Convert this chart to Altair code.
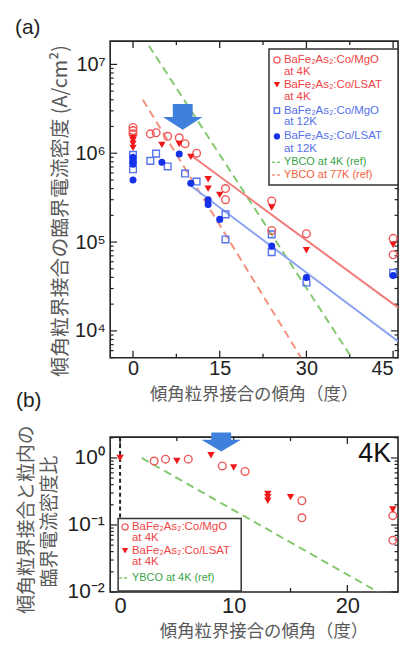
import altair as alt
import pandas as pd

# ---------------- data ----------------
# panel (a): critical current density (A/cm^2) vs misorientation angle (deg)
A_MGO4_X = [0, 0, 0, 3, 4, 6, 8, 9, 11, 16, 16, 24, 24, 30, 45, 45]
A_MGO4_Y = [1.95e6, 1.8e6, 1.65e6, 1.65e6, 1.7e6, 1.55e6, 1.49e6, 1.28e6, 1.0e6,
            4.0e5, 3.0e5, 2.9e5, 1.35e5, 1.24e5, 1.1e5, 7.2e4]
A_LSAT4_X = [0, 0, 0, 0, 5, 8, 10, 13, 13, 15, 24, 30, 45]
A_LSAT4_Y = [1.5e6, 1.4e6, 1.28e6, 1.15e6, 1.24e6, 1.27e6, 9.1e5, 5.1e5, 4.0e5,
             3.4e5, 2.45e5, 8.1e4, 9.3e4]
A_MGO12_X = [0, 0, 0, 3, 4, 6, 9, 11, 16, 16, 24, 24, 30, 45]
A_MGO12_Y = [9.6e5, 8.4e5, 6.6e5, 8.2e5, 9.9e5, 7.1e5, 5.9e5, 4.8e5, 2.05e5, 1.07e5,
             1.22e5, 7.7e4, 3.5e4, 4.5e4]
A_LSAT12_X = [0, 0, 0, 0, 5, 8, 10, 13, 13, 15, 24, 30, 45]
A_LSAT12_Y = [9.0e5, 8.0e5, 7.5e5, 5.0e5, 7.9e5, 9.8e5, 4.6e5, 3.0e5, 2.65e5, 1.8e5,
              9.0e4, 4.0e4, 4.2e4]
FIT4_X = [10, 46]
FIT4_Y = [9.5e5, 1.8e4]
FIT12_X = [10, 46]
FIT12_Y = [4.3e5, 7.5e3]
YBCO4_A_X = [2.75, 37.5]
YBCO4_A_Y = [1.62e7, 5.4e3]
YBCO77_A_X = [1.7, 29]
YBCO77_A_Y = [4.0e6, 5.1e3]

# panel (b): ratio of GB Jc to intragrain Jc at 4 K
B_MGO4_X = [3, 4, 6, 9, 11, 16, 16, 24, 24]
B_MGO4_Y = [0.90, 0.96, 0.96, 0.76, 0.63, 0.23, 0.128, 0.138, 0.059]
B_LSAT4_X = [0, 5, 8, 10, 13, 13, 13, 15, 24]
B_LSAT4_Y = [1.0, 0.90, 1.1, 0.72, 0.29, 0.26, 0.23, 0.26, 0.17]
YBCO4_B_X = [1.9, 22.7]
YBCO4_B_Y = [1.0, 0.01]

# tick values
A_X_MAJOR = [0, 15, 30, 45]
A_X_MINOR = [7.5, 22.5, 37.5]
A_Y_MAJOR = [1e4, 1e5, 1e6, 1e7]
B_X_MAJOR = [0, 10, 20]
B_X_MINOR = [5, 15]
B_Y_MAJOR = [0.01, 0.1, 1]

# annotation arrow positions (data coords)
ARROW_A = (8.6, 2.56e6)
ARROW_B = (8.9, 1.73)

# ---------------- styling ----------------
RED_OPEN = '#f05858'
RED_TRI = '#ee1818'
BLUE_OPEN = '#5673ee'
BLUE_FILL = '#1532e8'
GREEN = '#84c872'
SALMON = '#f4907c'
RED_FIT = '#f27a7a'
BLUE_FIT = '#8aa4f2'
ARROW = '#3f80dc'
TXT_RED = '#f04444'
TXT_BLUE = '#5470ea'
TXT_GREEN = '#3aa448'
TXT_ORANGE = '#f2603a'
TITLE_C = '#5a5a5a'
CJK = 'Noto Sans CJK JP'
LAT = 'Liberation Sans'

W = 290
HA = 319
HB = 156
LEFT = 110
TOP = 38

def minor_log(lo, hi):
    out = []
    for k in range(-3, 8):
        for m in range(2, 10):
            v = m * 10 ** k
            if lo < v < hi:
                out.append(v)
    return out

xa_scale = alt.Scale(domain=[-3.95, 45.85], nice=False, zero=False)
ya_dom = [10 ** 3.698, 10 ** 7.262]
ya_scale = alt.Scale(type='log', domain=ya_dom, nice=False)
xb_scale = alt.Scale(domain=[-0.87, 24.46], nice=False, zero=False)
yb_dom = [0.01, 10 ** 0.311]
yb_scale = alt.Scale(type='log', domain=yb_dom, nice=False)

xa_axis = alt.Axis(values=A_X_MAJOR, format='d', title=None, labelFontSize=20, labelPadding=1,
                   labelFlush=8)
ya_axis = alt.Axis(values=A_Y_MAJOR, title=None, labelPadding=5,
                   labelExpr="datum.value > 5e6 ? '10⁷' : datum.value > 5e5 ? '10⁶' : datum.value > 5e4 ? '10⁵' : '10⁴'")
xb_axis = alt.Axis(values=B_X_MAJOR, format='d', title=None, labelFontSize=22, labelPadding=4)
yb_axis = alt.Axis(values=B_Y_MAJOR, title=None, labelPadding=6, labelFontSize=21,
                   labelExpr="datum.value > 0.5 ? '10⁰' : datum.value > 0.05 ? '10⁻¹' : '10⁻²'")

DUMMY = pd.DataFrame({'d': [0]})


def XY(xscale, xaxis, yscale, yaxis):
    return dict(x=alt.X('x:Q', scale=xscale, axis=xaxis), y=alt.Y('y:Q', scale=yscale, axis=yaxis))


def frame_ticks(xscale, xaxis, yscale, yaxis, H, xmaj, xmin, ymaj, ymin):
    layers = []
    X = alt.X('x:Q', scale=xscale, axis=xaxis)
    Y = alt.Y('y:Q', scale=yscale, axis=yaxis)
    for vals, L in ((xmaj, 7), (xmin, 4)):
        df = pd.DataFrame({'x': vals})
        layers.append(alt.Chart(df).mark_rule(color='#222', strokeWidth=1.3).encode(
            x=X, y=alt.value(H), y2=alt.value(H - L)))
        layers.append(alt.Chart(df).mark_rule(color='#222', strokeWidth=1.3).encode(
            x=X, y=alt.value(0), y2=alt.value(L)))
    for vals, L in ((ymaj, 7), (ymin, 3.5)):
        df = pd.DataFrame({'y': vals})
        layers.append(alt.Chart(df).mark_rule(color='#222', strokeWidth=1.2).encode(
            y=Y, x=alt.value(0), x2=alt.value(L)))
        layers.append(alt.Chart(df).mark_rule(color='#222', strokeWidth=1.2).encode(
            y=Y, x=alt.value(W), x2=alt.value(W - L)))
    return layers


def pts(xs, ys, kind, color, xscale, xaxis, yscale, yaxis, size=55):
    df = pd.DataFrame({'x': xs, 'y': ys})
    enc = XY(xscale, xaxis, yscale, yaxis)
    if kind == 'ocircle':
        m = alt.Chart(df).mark_point(shape='circle', filled=False, color=color, size=size, strokeWidth=1.4, opacity=1)
    elif kind == 'tri':
        m = alt.Chart(df).mark_point(shape='triangle-down', filled=True, color=color, size=size, opacity=1)
    elif kind == 'osquare':
        m = alt.Chart(df).mark_point(shape='square', filled=False, color=color, size=size, strokeWidth=1.4, opacity=1)
    else:
        m = alt.Chart(df).mark_point(shape='circle', filled=True, color=color, size=size, opacity=1)
    return m.encode(**enc)


def line(xs, ys, color, dash, xscale, xaxis, yscale, yaxis, width=2):
    df = pd.DataFrame({'x': xs, 'y': ys})
    kw = dict(color=color, strokeWidth=width, clip=True)
    if dash:
        kw['strokeDash'] = dash
    return alt.Chart(df).mark_line(**kw).encode(**XY(xscale, xaxis, yscale, yaxis))


def txt(s, x, y, size, color, font=LAT, align='left', angle=0, baseline='middle'):
    kw = dict(text=s, fontSize=size, color=color, font=font, align=align, baseline=baseline)
    if angle:
        kw['angle'] = angle
    return alt.Chart(DUMMY).mark_text(**kw).encode(x=alt.value(x), y=alt.value(y))


def sym(shape, filled, color, x, y, size=40):
    return alt.Chart(DUMMY).mark_point(shape=shape, filled=filled, color=color, size=size,
                                       strokeWidth=1.3, opacity=1).encode(x=alt.value(x), y=alt.value(y))


def dashsym(color, x, y):
    return alt.Chart(DUMMY).mark_rule(color=color, strokeWidth=1.5, strokeDash=[3, 2]).encode(
        x=alt.value(x), x2=alt.value(x + 10), y=alt.value(y))


def box(x1, x2, y1, y2, stroke='#333'):
    return alt.Chart(DUMMY).mark_rect(fill='white', stroke=stroke, strokeWidth=1.5).encode(
        x=alt.value(x1), x2=alt.value(x2), y=alt.value(y1), y2=alt.value(y2))


def anchor():
    # invisible white dot fixing the top-left corner of the drawing
    return alt.Chart(DUMMY).mark_rect(fill='white', strokeWidth=0).encode(
        x=alt.value(-LEFT), x2=alt.value(-LEFT + 1), y=alt.value(-TOP), y2=alt.value(-TOP + 1))


ARROW_PATH_A = 'M-0.5,-0.65 L0.5,-0.65 L0.5,0 L1,0 L0,0.65 L-1,0 L-0.5,0 Z'
ARROW_PATH_B = 'M-0.5,-0.48 L0.5,-0.48 L0.5,-0.12 L1,-0.12 L0,0.48 L-1,-0.12 L-0.5,-0.12 Z'


def arrow(pos, path, xscale, xaxis, yscale, yaxis):
    df = pd.DataFrame({'x': [pos[0]], 'y': [pos[1]]})
    return alt.Chart(df).mark_point(shape=path, filled=True, color=ARROW, size=1600, opacity=1,
                                    strokeWidth=0).encode(**XY(xscale, xaxis, yscale, yaxis))


LF = 11.5  # legend font size, panel (a)

# ---------------- panel (a) ----------------
ka = (xa_scale, xa_axis, ya_scale, ya_axis)
layers_a = [anchor()]
layers_a += frame_ticks(xa_scale, xa_axis, ya_scale, ya_axis, HA, A_X_MAJOR, A_X_MINOR,
                        A_Y_MAJOR, minor_log(*ya_dom))
layers_a += [
    line(YBCO77_A_X, YBCO77_A_Y, SALMON, [8, 5], *ka),
    line(YBCO4_A_X, YBCO4_A_Y, GREEN, [8, 5], *ka),
    line(FIT4_X, FIT4_Y, RED_FIT, None, *ka),
    line(FIT12_X, FIT12_Y, BLUE_FIT, None, *ka),
    pts(A_MGO12_X, A_MGO12_Y, 'osquare', BLUE_OPEN, *ka, size=45),
    pts(A_LSAT12_X, A_LSAT12_Y, 'fcircle', BLUE_FILL, *ka, size=50),
    pts(A_MGO4_X, A_MGO4_Y, 'ocircle', RED_OPEN, *ka, size=60),
    pts(A_LSAT4_X, A_LSAT4_Y, 'tri', RED_TRI, *ka, size=55),
    arrow(ARROW_A, ARROW_PATH_A, *ka),
    box(160, 290, 8, 145),
    sym('circle', False, RED_OPEN, 168, 19),
    txt('BaFe₂As₂:Co/MgO', 175, 19, LF, TXT_RED),
    txt('at 4K', 175, 31, LF, TXT_RED),
    sym('triangle-down', True, RED_TRI, 168, 44),
    txt('BaFe₂As₂:Co/LSAT', 175, 44, LF, TXT_RED),
    txt('at 4K', 175, 56, LF, TXT_RED),
    sym('square', False, BLUE_OPEN, 168, 70, 30),
    txt('BaFe₂As₂:Co/MgO', 175, 70, LF, TXT_BLUE),
    txt('at 12K', 175, 82, LF, TXT_BLUE),
    sym('circle', True, BLUE_FILL, 168, 96),
    txt('BaFe₂As₂:Co/LSAT', 175, 96, LF, TXT_BLUE),
    txt('at 12K', 175, 109, LF, TXT_BLUE),
    dashsym(GREEN, 163, 122),
    txt('YBCO at 4K (ref)', 175, 122, 11, TXT_GREEN),
    dashsym(SALMON, 163, 135),
    txt('YBCO at 77K (ref)', 175, 135, 11, TXT_ORANGE),
    txt('(a)', -83, -13, 21, '#222', align='center'),
    txt('傾角粒界接合の臨界電流密度 (A/cm²)', -49, 171, 20, TITLE_C, font=CJK, align='center', angle=270),
    txt('傾角粒界接合の傾角（度）', 145, 357, 17.5, TITLE_C, font=CJK, align='center'),
]
panel_a = alt.layer(*layers_a).properties(width=W, height=HA)

# ---------------- panel (b) ----------------
kb = (xb_scale, xb_axis, yb_scale, yb_axis)
layers_b = frame_ticks(xb_scale, xb_axis, yb_scale, yb_axis, HB, B_X_MAJOR, B_X_MINOR,
                       B_Y_MAJOR, minor_log(*yb_dom))
vline = alt.Chart(pd.DataFrame({'x': [0]})).mark_rule(color='#222', strokeWidth=2, strokeDash=[4, 3]).encode(
    x=alt.X('x:Q', scale=xb_scale, axis=xb_axis), y=alt.value(0), y2=alt.value(HB))
layers_b += [
    vline,
    line(YBCO4_B_X, YBCO4_B_Y, GREEN, [8, 5], *kb),
    pts(B_MGO4_X, B_MGO4_Y, 'ocircle', RED_OPEN, *kb, size=60),
    pts(B_LSAT4_X, B_LSAT4_Y, 'tri', RED_TRI, *kb, size=55),
    arrow(ARROW_B, ARROW_PATH_B, *kb),
    box(8, 132, 82, 155),
    sym('circle', False, RED_OPEN, 15, 90.5),
    txt('BaFe₂As₂:Co/MgO', 22, 90.5, 11.5, TXT_RED),
    txt('at 4K', 22, 102, 11.5, TXT_RED),
    sym('triangle-down', True, RED_TRI, 15, 114.5),
    txt('BaFe₂As₂:Co/LSAT', 22, 114.5, 11.5, TXT_RED),
    txt('at 4K', 22, 126, 11.5, TXT_RED),
    dashsym(GREEN, 9, 142),
    txt('YBCO at 4K (ref)', 22, 142, 11, TXT_GREEN),
    txt('4K', 283, 17, 27, '#111', align='right'),
    txt('(b)', -82, -36, 21, '#222', align='center'),
    txt('傾角粒界接合と粒内の', -84, 83, 19, TITLE_C, font=CJK, align='center', angle=270),
    txt('臨界電流密度比', -61, 85, 19, TITLE_C, font=CJK, align='center', angle=270),
    txt('傾角粒界接合の傾角（度）', 155, 196, 17.5, TITLE_C, font=CJK, align='center'),
]
panel_b = alt.layer(*layers_b).properties(width=W, height=HB)

chart = alt.vconcat(panel_a, panel_b, spacing=80, bounds='flush').properties(
    padding={'left': 0, 'top': 0, 'right': 0, 'bottom': 0}
).configure_view(stroke='#222', strokeWidth=1.6).configure_axis(
    labelFont=LAT, labelColor='#222', labelFontSize=20, grid=False, ticks=False, domain=False
)

chart.save('out.html', embed_options={'renderer': 'svg', 'actions': False})
